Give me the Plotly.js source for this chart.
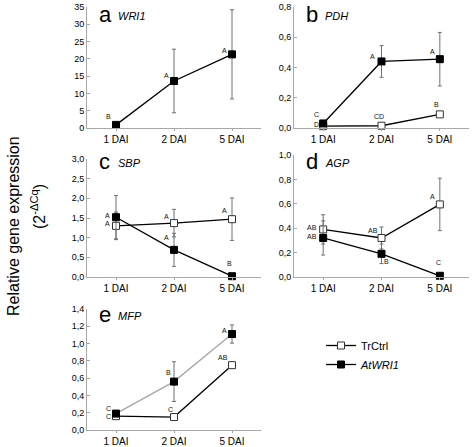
<!DOCTYPE html>
<html>
<head>
<meta charset="utf-8">
<script src="https://cdn.plot.ly/plotly-3.0.1.min.js"></script>
<style>
  html, body { margin: 0; padding: 0; background: #fff; }
  #chart { width: 472px; height: 447px; }
</style>
</head>
<body>
<div id="chart"></div>
<script>
// Sampling days
const days = ['1 DAI', '2 DAI', '5 DAI'];

// Relative expression (2^-ΔCq), mean and error per gene and line
const wri1At = [0.9, 13.6, 21.3];
const wri1AtErr = [0.3, 9.2, 12.9];
const wri1AtSig = ['B', 'A', 'A'];

const pdhTr = [0.012, 0.015, 0.09];
const pdhTrErr = [0.005, 0.012, 0.01];
const pdhTrSig = ['D', 'CD', 'B'];
const pdhAt = [0.03, 0.44, 0.455];
const pdhAtErr = [0.01, 0.105, 0.177];
const pdhAtSig = ['C', 'A', 'A'];

const sbpTr = [1.3, 1.37, 1.47];
const sbpTrErr = [0.35, 0.35, 0.54];
const sbpTrSig = ['A', 'A', 'A'];
const sbpAt = [1.52, 0.69, 0.02];
const sbpAtErr = [0.55, 0.42, 0.01];
const sbpAtSig = ['A', 'A', 'B'];

const agpTr = [0.39, 0.32, 0.595];
const agpTrErr = [0.12, 0.09, 0.215];
const agpTrSig = ['AB', 'AB', 'A'];
const agpAt = [0.32, 0.19, 0.01];
const agpAtErr = [0.14, 0.08, 0.005];
const agpAtSig = ['AB', 'B', 'C'];

const mfpTr = [0.16, 0.15, 0.75];
const mfpTrErr = [0.03, 0.01, 0.03];
const mfpTrSig = ['C', 'C', 'AB'];
const mfpAt = [0.19, 0.56, 1.11];
const mfpAtErr = [0.03, 0.23, 0.105];
const mfpAtSig = ['C', 'B', 'A'];

const W = 472, H = 447;
const px = v => v / W;
const py = v => 1 - v / H;

const FONT = 'Liberation Sans';
const ERR_COLOR = '#707070';
const AXIS_COLOR = '#a8a8a8';

function series(name, y, err, axis, opts) {
  const o = opts || {};
  const open = o.open;
  return {
    type: 'scatter',
    mode: 'lines+markers',
    name: name,
    x: days,
    y: y,
    xaxis: 'x' + axis,
    yaxis: 'y' + axis,
    showlegend: !!o.legend,
    line: { color: o.lineColor || '#000', width: 1.3 },
    marker: {
      symbol: 'square',
      size: 7,
      color: open ? '#fff' : '#000',
      line: { color: open ? '#333' : '#000', width: 1 }
    },
    error_y: {
      type: 'data', array: err, visible: true,
      color: ERR_COLOR, thickness: 1, width: 2
    },
    cliponaxis: false
  };
}

const traces = [
  series('<i>AtWRI1</i>', wri1At, wri1AtErr, ''),
  series('TrCtrl', pdhTr, pdhTrErr, '2', { open: true, legend: true }),
  series('<i>AtWRI1</i>', pdhAt, pdhAtErr, '2', { legend: true }),
  series('TrCtrl', sbpTr, sbpTrErr, '3', { open: true }),
  series('<i>AtWRI1</i>', sbpAt, sbpAtErr, '3'),
  series('TrCtrl', agpTr, agpTrErr, '4', { open: true }),
  series('<i>AtWRI1</i>', agpAt, agpAtErr, '4'),
  series('TrCtrl', mfpTr, mfpTrErr, '5', { open: true }),
  series('<i>AtWRI1</i>', mfpAt, mfpAtErr, '5', { lineColor: '#a6a6a6' })
];

// Significance letters, placed next to each point (dx, dy in pixels, screen direction)
const annotations = [];
function letters(sig, vals, axis, offsets) {
  sig.forEach((s, i) => {
    annotations.push({
      xref: 'x' + axis, yref: 'y' + axis,
      x: i, y: vals[i], text: s, showarrow: false,
      xshift: offsets[i][0], yshift: -offsets[i][1],
      font: { family: FONT, size: 7, color: '#111' }
    });
  });
}
letters(wri1AtSig, wri1At, '', [[-8, -8], [-8, -5], [-8, -4]]);
letters(pdhAtSig, pdhAt, '2', [[-7, -9], [-9, -5], [-7, -8]]);
letters(pdhTrSig, pdhTr, '2', [[-7, -2], [-3, -9], [-3, -10]]);
letters(sbpAtSig, sbpAt, '3', [[-9, -2], [-8, -12], [-3, -13]]);
letters(sbpTrSig, sbpTr, '3', [[-9, -2], [-8, -7], [-8, -9]]);
letters(agpTrSig, agpTr, '4', [[-11, -2], [-9, -7], [-7, -8]]);
letters(agpAtSig, agpAt, '4', [[-11, -1], [5, 8], [-1, -13]]);
letters(mfpAtSig, mfpAt, '5', [[-8, -5], [-6, -9], [-8, -4]]);
letters(mfpTrSig, mfpTr, '5', [[-8, 0], [-4, -8], [-9, -8]]);

// Panel letters and gene names
const panels = [
  ['a', 'WRI1', 97, 14],
  ['b', 'PDH', 304, 14],
  ['c', 'SBP', 97, 161],
  ['d', 'AGP', 304, 161],
  ['e', 'MFP', 97, 314]
];
panels.forEach(([letter, gene, x, y]) => {
  annotations.push({
    xref: 'paper', yref: 'paper', x: px(x), y: py(y),
    xanchor: 'left', yanchor: 'middle', showarrow: false,
    text: letter, font: { family: FONT, size: 22, color: '#000' }
  });
  annotations.push({
    xref: 'paper', yref: 'paper', x: px(x + 19), y: py(y + 2),
    xanchor: 'left', yanchor: 'middle', showarrow: false,
    text: '<i>' + gene + '</i>', font: { family: FONT, size: 11, color: '#000' }
  });
});

// Shared y-axis title
annotations.push({
  xref: 'paper', yref: 'paper', x: px(13), y: py(226),
  xanchor: 'center', yanchor: 'middle', showarrow: false, textangle: -90,
  text: 'Relative gene expression', font: { family: FONT, size: 16, color: '#000' }
});
annotations.push({
  xref: 'paper', yref: 'paper', x: px(38), y: py(207),
  xanchor: 'center', yanchor: 'middle', showarrow: false, textangle: -90,
  text: '(2<sup>-ΔCq</sup>)', font: { family: FONT, size: 16, color: '#000' }
});

function xAx(domain, anchor) {
  return {
    domain: domain, anchor: anchor, type: 'category',
    range: [-0.5, 2.5], showgrid: false, zeroline: false,
    showline: true, linecolor: AXIS_COLOR, linewidth: 1,
    ticks: 'outside', ticklen: 2, tickcolor: AXIS_COLOR,
    tickfont: { family: FONT, size: 10, color: '#000' }
  };
}
function yAx(domain, anchor, max, dtick, fmt) {
  return {
    domain: domain, anchor: anchor, range: [0, max], dtick: dtick,
    tickformat: fmt, showgrid: false, zeroline: false,
    showline: true, linecolor: AXIS_COLOR, linewidth: 1,
    ticks: 'inside', ticklen: 3, tickcolor: AXIS_COLOR,
    tickfont: { family: FONT, size: 9, color: '#000' }
  };
}

const leftX = [px(87), px(261)];
const rightX = [px(294), px(469)];

const layout = {
  width: W, height: H,
  margin: { l: 0, r: 0, t: 0, b: 0 },
  paper_bgcolor: '#fff', plot_bgcolor: '#fff',
  separators: ',.',
  font: { family: FONT, color: '#000' },
  xaxis: xAx(leftX, 'y'),
  yaxis: yAx([py(128), py(7)], 'x', 35, 5, 'd'),
  xaxis2: xAx(rightX, 'y2'),
  yaxis2: yAx([py(128), py(7)], 'x2', 0.8, 0.2, '.1f'),
  xaxis3: xAx(leftX, 'y3'),
  yaxis3: yAx([py(277), py(159)], 'x3', 3, 0.5, '.1f'),
  xaxis4: xAx(rightX, 'y4'),
  yaxis4: yAx([py(277), py(155)], 'x4', 1, 0.2, '.1f'),
  xaxis5: xAx(leftX, 'y5'),
  yaxis5: yAx([py(430), py(309)], 'x5', 1.4, 0.2, '.1f'),
  showlegend: true,
  legend: {
    x: px(321), y: py(331), xanchor: 'left', yanchor: 'top',
    bgcolor: 'rgba(0,0,0,0)', font: { family: FONT, size: 11, color: '#000' },
    traceorder: 'normal', tracegroupgap: 0
  },
  annotations: annotations
};

Plotly.newPlot('chart', traces, layout, { displayModeBar: false, staticPlot: true });
</script>
</body>
</html>
